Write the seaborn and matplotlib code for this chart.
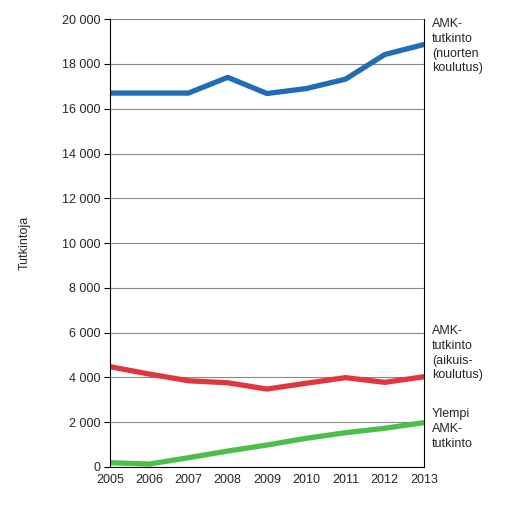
import numpy as np
import pandas as pd
import matplotlib
matplotlib.use("Agg")
import matplotlib.pyplot as plt
import seaborn as sns
from matplotlib.ticker import FuncFormatter

years = [2005, 2006, 2007, 2008, 2009, 2010, 2011, 2012, 2013]
nuorten = [16700, 16700, 16700, 17400, 16680, 16900, 17320, 18420, 18870]
aikuis = [4480, 4150, 3850, 3760, 3480, 3740, 3990, 3780, 4030]
ylempi = [190, 130, 415, 710, 980, 1280, 1530, 1730, 1980]

labels = ["AMK-\ntutkinto\n(nuorten\nkoulutus)",
          "AMK-\ntutkinto\n(aikuis-\nkoulutus)",
          "Ylempi\nAMK-\ntutkinto"]
colors = ["#1f6db6", "#e0373c", "#4cbf48"]

df = pd.DataFrame({"vuosi": years * 3,
                   "arvo": nuorten + aikuis + ylempi,
                   "sarja": sum([[l] * len(years) for l in labels], [])})

sns.set_style("white")
plt.rcParams['font.family'] = ['Liberation Sans', 'DejaVu Sans']

fig = plt.figure(figsize=(5.09, 5.18), dpi=100)
ax = fig.add_axes([0.216, 0.0985, 0.617, 0.8645])

sns.lineplot(data=df, x="vuosi", y="arvo", hue="sarja", palette=colors,
             linewidth=3.8, legend=False, ax=ax)

ax.set_xlim(2005, 2013)
ax.set_ylim(0, 20000)
ax.set_yticks(range(0, 20001, 2000))
ax.set_xticks(years)
ax.yaxis.set_major_formatter(FuncFormatter(lambda v, p: f"{int(v):,}".replace(",", " ")))
ax.grid(axis="y", color="#888888", linewidth=0.8)
ax.set_axisbelow(True)
for s in ["left", "right", "bottom"]:
    ax.spines[s].set_color("black")
    ax.spines[s].set_linewidth(0.8)
ax.spines["top"].set_visible(False)
ax.tick_params(axis="y", length=4, width=0.8, color="black", labelsize=9, pad=3, left=True)
ax.tick_params(axis="x", length=0, labelsize=9, pad=5)
ax.set_xlabel("")
ax.set_ylabel("Tutkintoja", fontsize=9, labelpad=22)

fig.text(0.849, 0.965, labels[0], fontsize=9, va="top", ha="left", linespacing=1.3)
fig.text(0.849, 0.372, labels[1], fontsize=9, va="top", ha="left", linespacing=1.3)
fig.text(0.849, 0.212, labels[2], fontsize=9, va="top", ha="left", linespacing=1.3)

fig.savefig("out.png", dpi=100)
